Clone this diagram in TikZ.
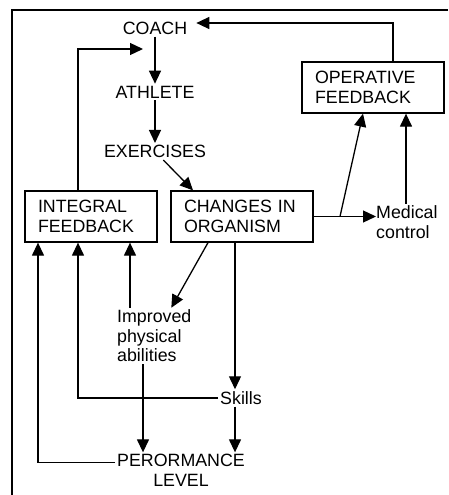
\documentclass[tikz,border=0pt]{standalone}
\usepackage{fontspec}
\setmainfont{Liberation Sans}
\usetikzlibrary{arrows.meta,calc}

\tikzset{
  lbl/.style={inner sep=2pt, font=\fontsize{17.8}{19.5}\selectfont},
  box/.style={draw, line width=1.3pt, align=left, minimum height=51pt,
    inner xsep=13pt, font=\fontsize{17.8}{19.5}\selectfont},
  arr/.style={line width=1.3pt, -{Triangle[length=13pt,width=12pt]}},
}

\begin{document}
\begin{tikzpicture}[x=1pt,y=-1pt]
\useasboundingbox (0,0) rectangle (448,495);
\draw[line width=1.3pt] (448,10) -- (12,10) -- (12,495);

\node[lbl] (coach) at (155,28) {COACH};
\node[lbl] (athlete) at (155,92) {ATHLETE};
\node[lbl] (exercises) at (155,151.5) {EXERCISES};

\node[box,text width=106pt] (integral) at (91,216.5) {INTEGRAL\\FEEDBACK};
\node[box,text width=116pt] (changes) at (242,216.5) {CHANGES IN\\ORGANISM};
\node[box,text width=116pt] (operative) at (373,87.5) {OPERATIVE\\FEEDBACK};

\node[lbl,align=left,anchor=west,inner xsep=0pt] (medical) at (376,222) {Medical\\control};
\node[lbl,align=left,anchor=west] (improved) at (115,336) {Improved\\physical\\abilities};
\node[lbl] (skills) at (241,398) {Skills};
\node[lbl,align=center] (perf) at (181,470.5) {PERORMANCE\\LEVEL};

\coordinate (cin) at (143,49);
\coordinate (split) at (340,216.5);

\draw[arr] (coach) -- (athlete);
\draw[arr] (athlete) -- (exercises);
\draw[arr] (exercises) -- ($(changes.north)+(-49,0)$);
\draw[arr] ($(integral.north)+(-13,0)$) |- (cin);
\draw[arr] ($(operative.north)+(20,0)$) |- ([xshift=7pt,yshift=5pt]coach.east);
\draw[arr] (changes.east) -- (changes.east -| medical.west);
\draw[arr] (split) -- ($(operative.south)+(-10,0)$);
\draw[arr] (medical.north -| 406,0) -- (operative.south -| 406,0);

\draw[arr] ($(changes.south)+(-34,0)$) -- ($(improved.north)+(17,0)$);
\draw[arr] (changes.south -| 235,0) -- (skills.north -| 235,0);
\draw[arr] (improved.north -| 130,0) -- (integral.south -| 130,0);
\draw[arr] (skills.west) -| ($(integral.south)+(-13,0)$);
\draw[arr] (improved.south -| 143,0) -- (perf.north -| 143,0);
\draw[arr] (skills.south -| 235,0) -- (perf.north -| 235,0);
\draw[arr] ($(perf.north west)+(0,10)$) -| (integral.south -| 38,0);
\end{tikzpicture}
\end{document}
